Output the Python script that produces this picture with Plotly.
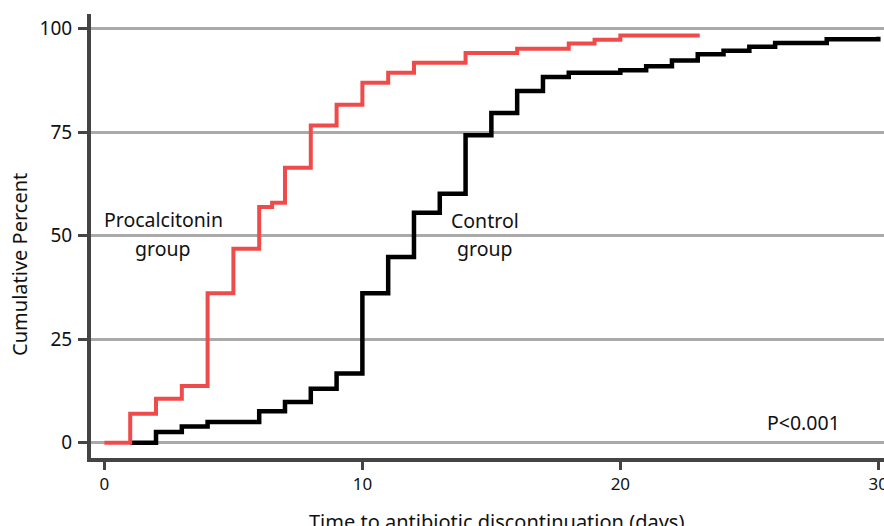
import plotly.graph_objects as go

# Procalcitonin group (cumulative percent, step after each day)
pct_days = [0, 1, 2, 3, 4, 5, 6, 6.5, 7, 8, 9, 10, 11, 12, 14, 16, 18, 19, 20, 23]
pct_vals = [0, 7.0, 10.6, 13.7, 36.1, 46.8, 56.9, 57.9, 66.4, 76.6, 81.6, 86.9, 89.3, 91.7, 94.1, 95.1, 96.4, 97.3, 98.3, 98.8]

# Control group
ctl_days = [1, 2, 3, 4, 6, 7, 8, 9, 10, 11, 12, 13, 14, 15, 16, 17, 18, 20, 21, 22, 23, 24, 25, 26, 28, 30]
ctl_vals = [0, 2.6, 3.9, 5.0, 7.6, 9.8, 13.0, 16.7, 36.1, 44.8, 55.5, 60.1, 74.2, 79.6, 84.9, 88.3, 89.3, 89.9, 90.9, 92.3, 93.8, 94.6, 95.6, 96.5, 97.4, 98.0]

y_ticks = [0, 25, 50, 75, 100]
x_ticks = [0, 10, 20, 30]

FONT = "Noto Sans"
TXT = "#111111"

fig = go.Figure()
fig.add_trace(go.Scatter(x=ctl_days, y=ctl_vals, mode="lines",
                         line=dict(shape="hv", color="#000000", width=4.5),
                         name="Control group", showlegend=False))
fig.add_trace(go.Scatter(x=pct_days, y=pct_vals, mode="lines",
                         line=dict(shape="hv", color="#f04b4b", width=4),
                         name="Procalcitonin group", showlegend=False))

ann = [
    dict(x=2.29, y=53.9, text="Procalcitonin"),
    dict(x=2.29, y=46.9, text="group"),
    dict(x=14.77, y=53.7, text="Control"),
    dict(x=14.77, y=46.9, text="group"),
    dict(x=27.1, y=4.9, text="P&lt;0.001"),
]
for a in ann:
    fig.add_annotation(x=a["x"], y=a["y"], text=a["text"], showarrow=False,
                       xref="x", yref="y", xanchor="center", yanchor="middle",
                       font=dict(family=FONT, size=19.5, color=TXT))

fig.add_annotation(x=-0.0895, y=0.435, xref="paper", yref="paper",
                   text="Cumulative Percent", textangle=-90, showarrow=False,
                   xanchor="center", yanchor="middle",
                   font=dict(family=FONT, size=20, color=TXT))
fig.add_annotation(x=0.511, y=-0.142, xref="paper", yref="paper",
                   text="Time to antibiotic discontinuation (days)", showarrow=False,
                   xanchor="center", yanchor="middle",
                   font=dict(family=FONT, size=20, color=TXT))

fig.update_layout(
    width=884, height=526,
    margin=dict(l=91, r=0, t=14, b=68),
    paper_bgcolor="white", plot_bgcolor="white",
    font=dict(family=FONT, color=TXT),
)
fig.update_xaxes(range=[-0.52, 30.22], tickvals=x_ticks, ticktext=[str(v) for v in x_ticks],
                 showgrid=False, zeroline=False, showline=True, linewidth=4, linecolor="#444444",
                 ticks="outside", ticklen=8, tickwidth=3, tickcolor="#444444", automargin=False,
                 ticklabeloverflow="allow",
                 tickfont=dict(family=FONT, size=17, color=TXT))
fig.update_yaxes(range=[-3.7, 103.5], tickvals=y_ticks, ticktext=[str(v) for v in y_ticks],
                 showgrid=True, gridcolor="#aaaaaa", gridwidth=3, zeroline=False,
                 showline=True, linewidth=4, linecolor="#444444", automargin=False,
                 ticks="outside", ticklen=9, tickwidth=3, tickcolor="#444444",
                 ticklabelstandoff=2,
                 tickfont=dict(family=FONT, size=19, color=TXT))

fig.write_html("out.html", config={"displayModeBar": False},
               post_script="document.body.style.margin='0';")
